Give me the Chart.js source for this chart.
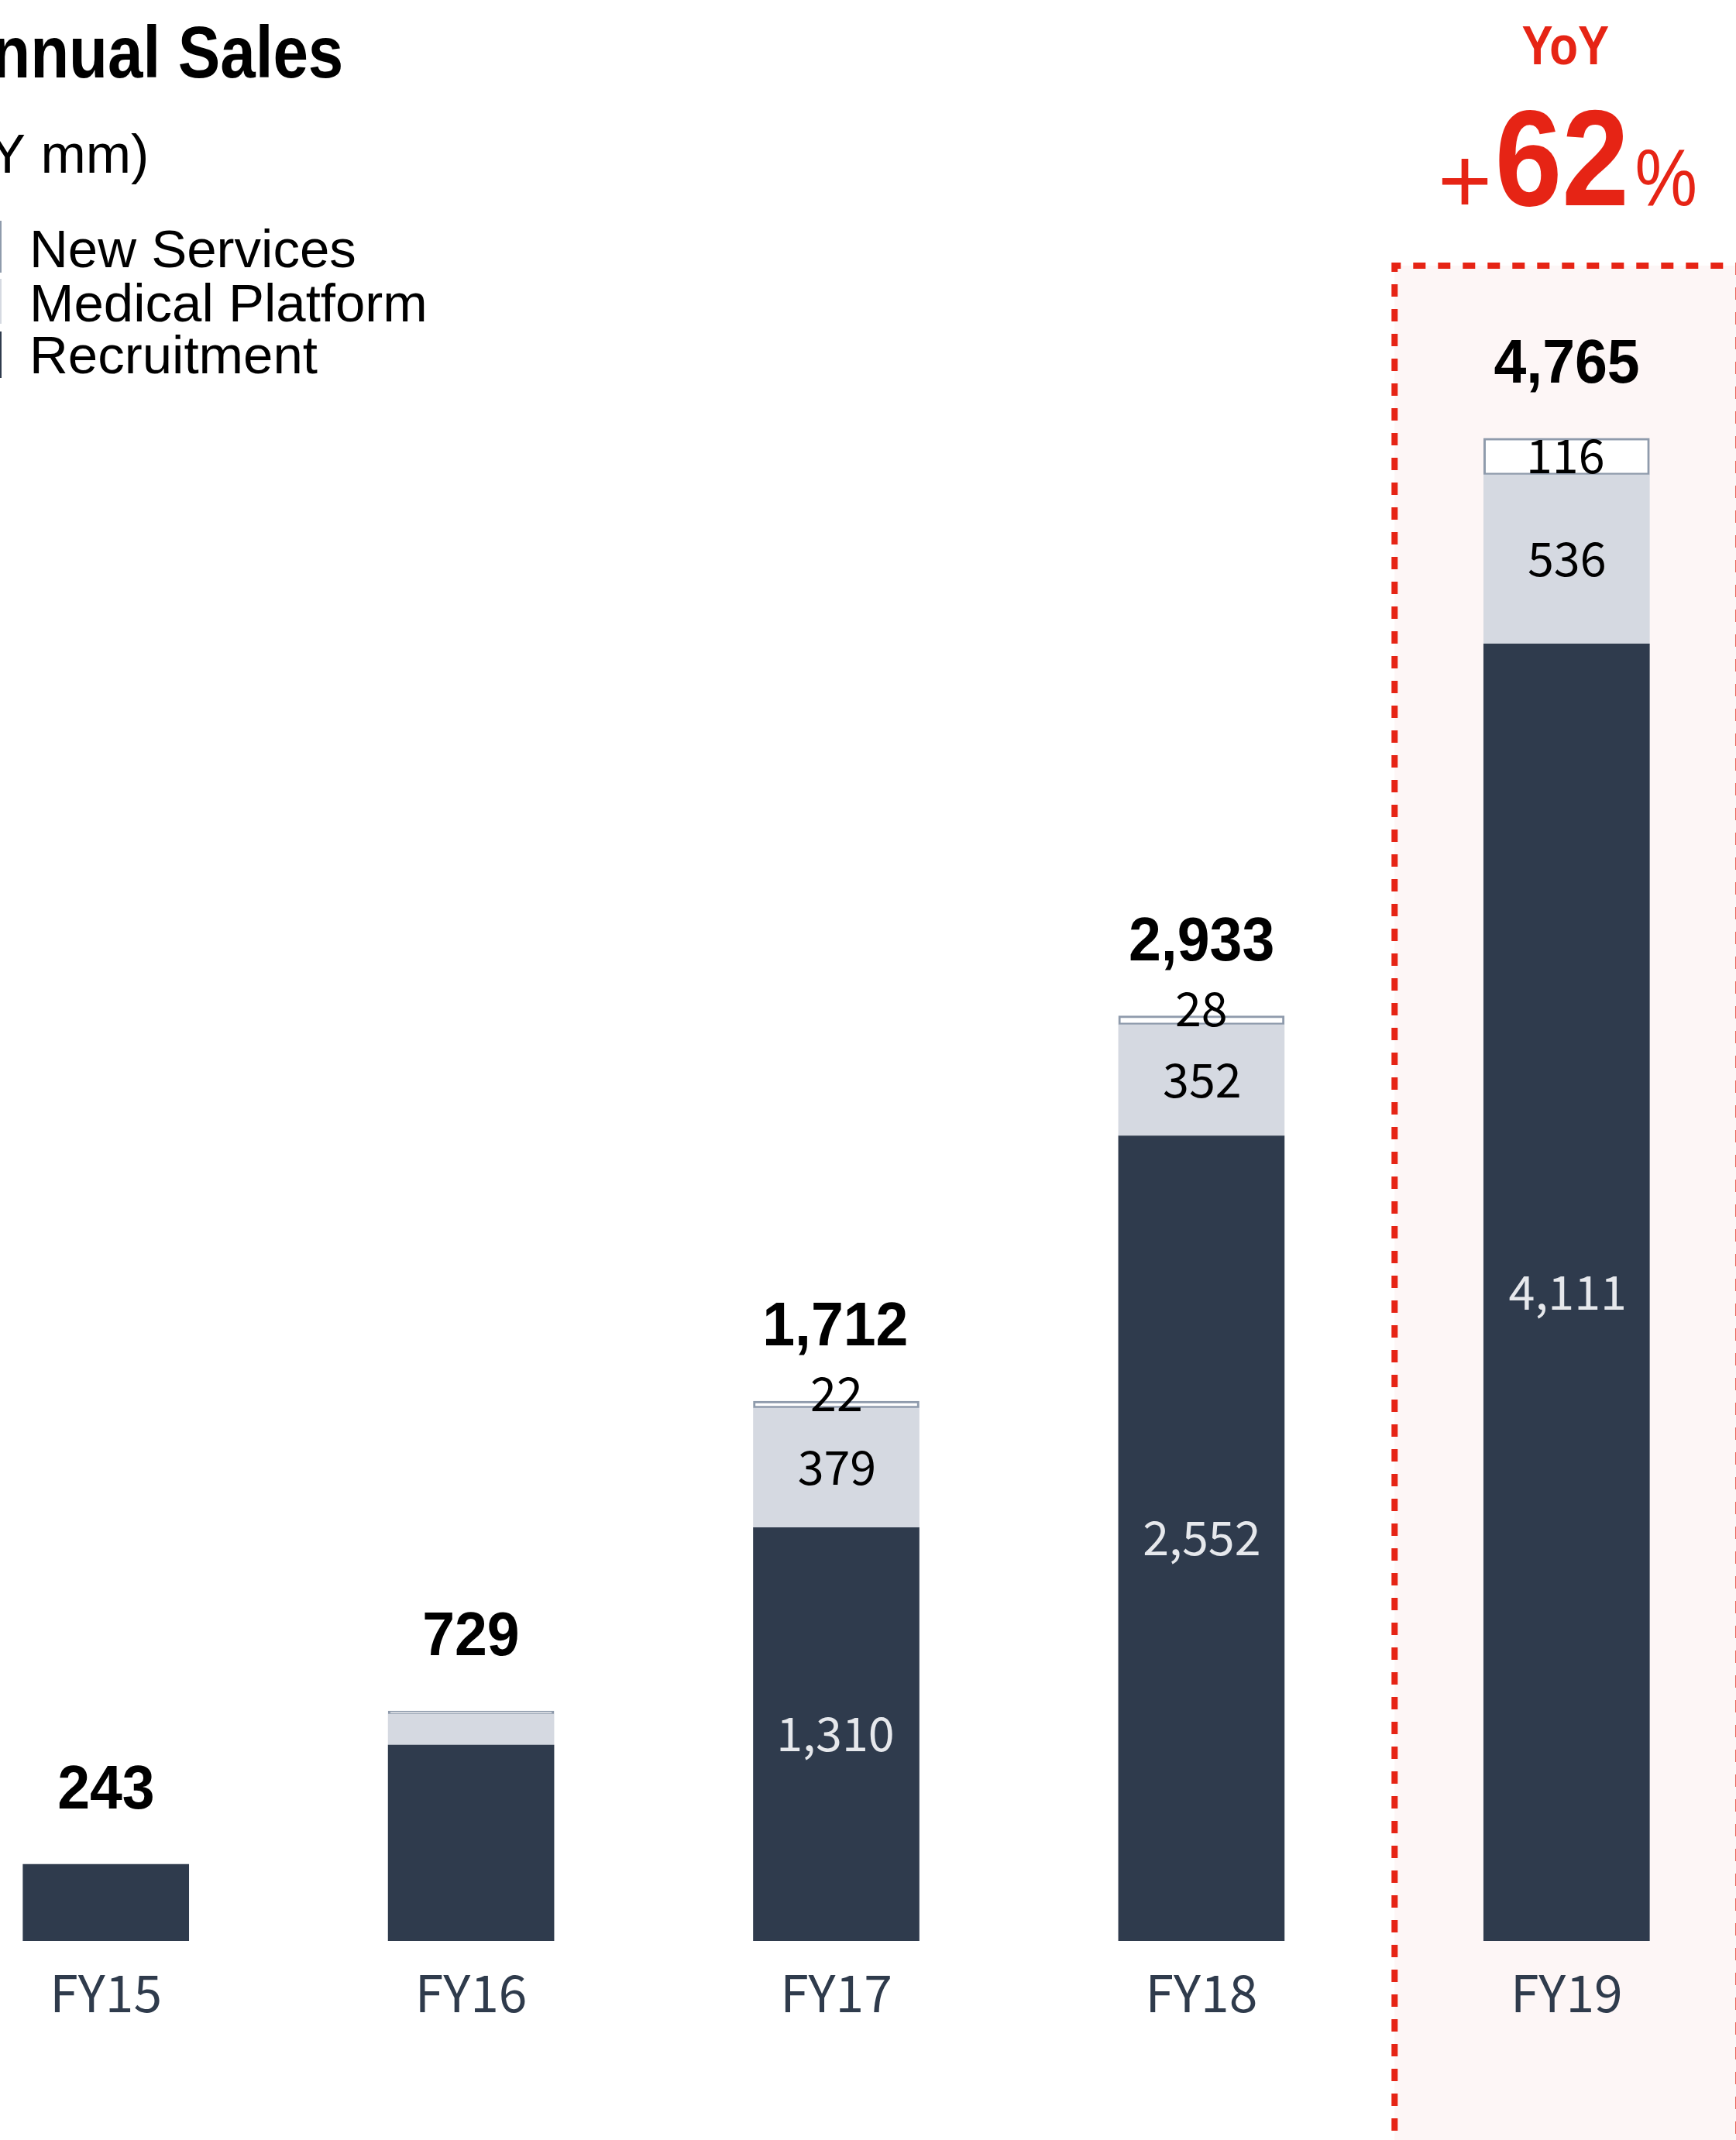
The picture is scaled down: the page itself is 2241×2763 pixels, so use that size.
<!DOCTYPE html>
<html>
<head>
<meta charset="utf-8">
<title>Annual Sales</title>
<script src="https://cdn.jsdelivr.net/npm/chart.js@4.4.1/dist/chart.umd.min.js"></script>
<style>
  html, body { margin: 0; padding: 0; background: #ffffff; }
  body { width: 2241px; height: 2763px; overflow: hidden; position: relative; }
  #wrap { position: absolute; left: -99px; top: 0; width: 2357px; height: 2763px; }
  canvas { display: block; }
</style>
</head>
<body>
<div id="wrap"><canvas id="sales" width="2357" height="2763"></canvas></div>
<script>
// Fiscal years on the x axis
const fiscalYears = ['FY15', 'FY16', 'FY17', 'FY18', 'FY19'];
// Sales by segment (JPY mm)
const recruitment     = [243, 621, 1310, 2552, 4111];
const medicalPlatform = [null, 98, 379, 352, 536];
const newServices     = [null, 10, 22, 28, 116];
// Reported totals shown above each bar
const totalSales      = [243, 729, 1712, 2933, 4765];
// Years whose segment values are printed inside the bars
const labelledYears   = ['FY17', 'FY18', 'FY19'];
const highlightYear   = 'FY19';
const yoyGrowth       = 62;
const seriesNames     = ['New Services', 'Medical Platform', 'Recruitment'];
const axisMax         = 6000;

const NAVY = '#2f3b4d';
const LIGHT = '#d5d9e1';
const EDGE = '#8f9bac';
const RED = '#e62415';
const SHIFT = 99; // canvas sits 99px left of the page edge

const fmt = v => v.toLocaleString('en-US');

// Place text by its ink box (left / right / centre) on a given baseline
function inkText(ctx, str, font, sx, x, align, baseline, color) {
  ctx.save();
  ctx.font = font;
  ctx.fillStyle = color;
  ctx.textAlign = 'left';
  ctx.textBaseline = 'alphabetic';
  const m = ctx.measureText(str);
  const l = -m.actualBoundingBoxLeft, r = m.actualBoundingBoxRight;
  let ox;
  if (align === 'left') ox = x - l * sx;
  else if (align === 'right') ox = x - r * sx;
  else ox = x - (l + r) / 2 * sx;
  ctx.translate(ox + SHIFT, baseline);
  ctx.scale(sx, 1);
  ctx.fillText(str, 0, 0);
  ctx.restore();
  return m;
}

const decorations = {
  id: 'decorations',
  beforeDraw(chart) {
    const ctx = chart.ctx;
    const xs = chart.scales.x;
    const cx = xs.getPixelForValue(fiscalYears.indexOf(highlightYear));
    const half = 222, top = 343, bottom = chart.height + 20;
    ctx.save();
    ctx.fillStyle = '#fdf6f6';
    ctx.fillRect(cx - half, top, half * 2, bottom - top);
    ctx.strokeStyle = RED;
    ctx.lineWidth = 8;
    ctx.setLineDash([16, 16]);
    ctx.beginPath();
    ctx.moveTo(cx - half, bottom);
    ctx.lineTo(cx - half, top);
    ctx.lineTo(cx + half, top);
    ctx.lineTo(cx + half, bottom);
    ctx.stroke();
    ctx.restore();

    // Title, unit and legend
    inkText(ctx, 'Annual Sales', 'bold 95px "Liberation Sans"', 0.86, 440, 'right', 100, '#000');
    inkText(ctx, '(JPY mm)', '70px "Liberation Sans"', 1, 188, 'right', 223, '#000');

    const swatches = [
      { y: 285, h: 67, fill: '#ffffff', edge: EDGE },
      { y: 360, h: 58, fill: LIGHT, edge: null },
      { y: 428, h: 60, fill: NAVY, edge: null }
    ];
    const baselines = [345, 415, 482];
    seriesNames.forEach((name, i) => {
      const s = swatches[i];
      ctx.save();
      if (s.edge) {
        ctx.fillStyle = s.edge;
        ctx.fillRect(SHIFT - 60, s.y, 62, s.h);
        ctx.fillStyle = s.fill;
        ctx.fillRect(SHIFT - 60, s.y + 3, 59, s.h - 6);
      } else {
        ctx.fillStyle = s.fill;
        ctx.fillRect(SHIFT - 60, s.y, 62, s.h);
      }
      ctx.restore();
      inkText(ctx, name, '69px "Liberation Sans"', 1, 43, 'left', baselines[i], '#000');
    });

    // YoY growth call-out
    inkText(ctx, 'YoY', 'bold 70px "Liberation Sans"', 0.86, 2021, 'center', 83, RED);
    ctx.save();
    ctx.font = '120px "Liberation Sans"';
    const pm = ctx.measureText('+');
    ctx.restore();
    inkText(ctx, '+', '120px "Liberation Sans"', 1, 1861, 'left', 264 - pm.actualBoundingBoxDescent, RED);
    inkText(ctx, String(yoyGrowth), 'bold 177px "Liberation Sans"', 0.88, 1935, 'left', 265, RED);
    inkText(ctx, '%', '104px "Liberation Sans"', 0.87, 2113, 'left', 265, RED);
  },
  afterDatasetsDraw(chart) {
    const ctx = chart.ctx;
    const xs = chart.scales.x, ys = chart.scales.y;
    fiscalYears.forEach((fy, i) => {
      const cx = xs.getPixelForValue(i) - SHIFT;
      const parts = [recruitment[i], medicalPlatform[i] || 0, newServices[i] || 0];
      const stackTop = ys.getPixelForValue(parts[0] + parts[1] + parts[2]);
      inkText(ctx, fmt(totalSales[i]), 'bold 80px "Liberation Sans"', 0.94, cx, 'center', stackTop - 72, '#000');

      if (!labelledYears.includes(fy)) return;
      let base = 0;
      const series = [recruitment, medicalPlatform, newServices];
      series.forEach((arr, k) => {
        const v = arr[i];
        if (v == null) return;
        const yBottom = ys.getPixelForValue(base);
        const yTop = ys.getPixelForValue(base + v);
        base += v;
        let mid = (yTop + yBottom) / 2;
        if (yBottom - yTop < 30) mid = yTop - 9;
        const color = k === 0 ? '#e6e8ec' : '#000';
        inkText(ctx, fmt(v), '61px "Noto Sans CJK JP"', 1, cx, 'center', mid + 22, color);
      });
    });
  }
};

new Chart(document.getElementById('sales'), {
  type: 'bar',
  data: {
    labels: fiscalYears,
    datasets: [
      { label: 'Recruitment', data: recruitment, backgroundColor: NAVY, borderWidth: 0 },
      { label: 'Medical Platform', data: medicalPlatform, backgroundColor: LIGHT, borderWidth: 0 },
      { label: 'New Services', data: newServices, backgroundColor: '#ffffff', borderColor: EDGE, borderWidth: 3, borderSkipped: false }
    ]
  },
  options: {
    responsive: false,
    devicePixelRatio: 1,
    animation: false,
    events: [],
    layout: { padding: { top: 62, left: 0, right: 0, bottom: 0 } },
    datasets: { bar: { barThickness: 214 } },
    plugins: { legend: { display: false }, tooltip: { enabled: false } },
    scales: {
      x: {
        stacked: true,
        offset: true,
        grid: { display: false, drawTicks: false },
        border: { display: false },
        ticks: { color: '#2f3b4c', font: { family: 'Noto Sans CJK JP', size: 66 }, padding: 27 },
        afterFit(axis) { axis.height = 257; }
      },
      y: {
        stacked: true,
        display: false,
        min: 0,
        max: axisMax
      }
    }
  },
  plugins: [decorations]
});
</script>
</body>
</html>
